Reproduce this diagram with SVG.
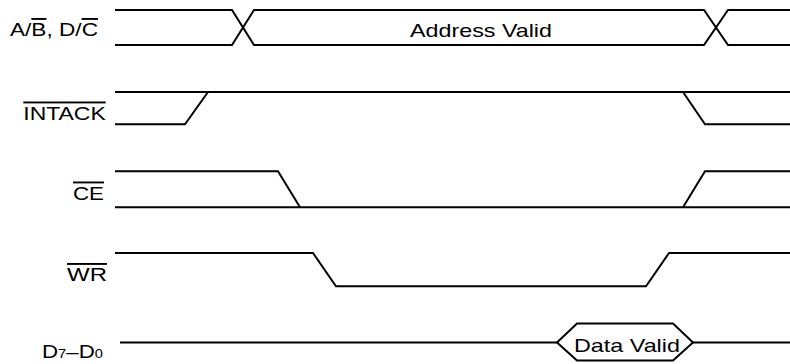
<svg xmlns="http://www.w3.org/2000/svg" width="790" height="364" viewBox="0 0 790 364">
<style>
.w{fill:none;stroke:#000;stroke-width:2;stroke-linejoin:miter}
.t{font-family:"Liberation Sans",Arial,sans-serif;font-size:19px;fill:#000}
.ol{text-decoration:overline}
.sub{font-size:12.5px}
</style>
<rect width="790" height="364" fill="#fff"/>
<g id="labels">
<text class="t" x="10" y="36" textLength="88" lengthAdjust="spacingAndGlyphs">A/<tspan class="ol">B</tspan>, D/<tspan class="ol">C</tspan></text>
<text class="t" x="23.3" y="119.5" textLength="82.4" lengthAdjust="spacingAndGlyphs"><tspan class="ol">INTACK</tspan></text>
<text class="t" x="73" y="199.5" textLength="31" lengthAdjust="spacingAndGlyphs"><tspan class="ol">CE</tspan></text>
<text class="t" x="67" y="281" textLength="40" lengthAdjust="spacingAndGlyphs"><tspan class="ol">WR</tspan></text>
<text class="t" x="42" y="357.7" textLength="61" lengthAdjust="spacingAndGlyphs">D<tspan class="sub">7</tspan>–D<tspan class="sub">0</tspan></text>
</g>
<g id="connectors">
<g id="sig-ab-dc">
<path class="w" d="M115,10 H232 L254,45 H704 L728,10 H790"/>
<path class="w" d="M115,45 H232 L254,10 H704 L728,45 H790"/>
</g>
<g id="sig-intack">
<path class="w" d="M115,92 H790"/>
<path class="w" d="M115,124.3 H185 L208,92"/>
<path class="w" d="M683,92 L705,124.3 H790"/>
</g>
<g id="sig-ce">
<path class="w" d="M115,207.3 H790"/>
<path class="w" d="M115,171.3 H278 L300,207.3"/>
<path class="w" d="M683,207.3 L705,171.3 H790"/>
</g>
<g id="sig-wr">
<path class="w" d="M115,253 H313 L336,286.3 H646 L669,253 H790"/>
</g>
<g id="sig-data">
<path class="w" d="M120,342.5 H557"/>
<path class="w" d="M693,342.5 H790"/>
</g>
</g>
<g id="addr-valid">
<text class="t" x="410" y="37" textLength="142" lengthAdjust="spacingAndGlyphs">Address Valid</text>
</g>
<g id="data-valid">
<path class="w" d="M557,342.5 L577,323.5 H673 L693,342.5 L673,360.5 H577 Z"/>
<text class="t" x="574" y="352" textLength="106" lengthAdjust="spacingAndGlyphs">Data Valid</text>
</g>
</svg>
